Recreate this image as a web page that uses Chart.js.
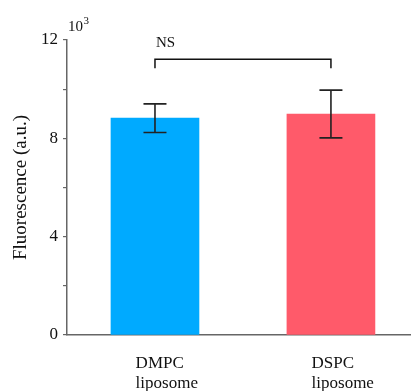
<!DOCTYPE html>
<html>
<head>
<meta charset="utf-8">
<script src="https://cdn.jsdelivr.net/npm/chart.js@4.4.1/dist/chart.umd.min.js"></script>
<style>
  html, body { margin: 0; padding: 0; background: #ffffff; overflow: hidden; }
  #wrap { width: 411px; height: 391px; }
</style>
</head>
<body>
<div id="wrap"><canvas id="chart" width="411" height="391"></canvas></div>
<script>
// Fluorescence of two liposome formulations (×10^3 a.u.), mean ± error
const categories = [['DMPC', 'liposome'], ['DSPC', 'liposome']];
const means = [8.82, 8.99];
const errors = [0.58, 0.97];
const barColors = ['rgb(0,170,255)', 'rgb(255,90,106)'];
const yTicks = [0, 4, 8, 12];
// significance bracket between the two groups
const bracket = { from: 0, to: 1, level: 11.22, drop: 10.85, text: 'NS' };

const FONT = "'Liberation Serif', 'Times New Roman', serif";
const AXIS = '#666666';

const extrasPlugin = {
  id: 'extras',
  afterDatasetsDraw(chart) {
    const { ctx, scales: { x, y } } = chart;
    ctx.save();
    // error bars
    ctx.strokeStyle = '#222222';
    ctx.lineWidth = 1.6;
    means.forEach((m, i) => {
      const px = x.getPixelForValue(i);
      const top = y.getPixelForValue(m + errors[i]);
      const bot = y.getPixelForValue(m - errors[i]);
      const cap = 11.5;
      ctx.beginPath();
      ctx.moveTo(px, top); ctx.lineTo(px, bot);
      ctx.moveTo(px - cap, top); ctx.lineTo(px + cap, top);
      ctx.moveTo(px - cap, bot); ctx.lineTo(px + cap, bot);
      ctx.stroke();
    });
    // bracket
    const bx1 = x.getPixelForValue(bracket.from);
    const bx2 = x.getPixelForValue(bracket.to);
    const by = y.getPixelForValue(bracket.level);
    const bd = y.getPixelForValue(bracket.drop);
    ctx.strokeStyle = '#111111';
    ctx.lineWidth = 1.5;
    ctx.beginPath();
    ctx.moveTo(bx1, bd); ctx.lineTo(bx1, by); ctx.lineTo(bx2, by); ctx.lineTo(bx2, bd);
    ctx.stroke();
    ctx.fillStyle = '#111111';
    ctx.font = '15px ' + FONT;
    ctx.textAlign = 'left';
    ctx.textBaseline = 'alphabetic';
    ctx.fillText(bracket.text, bx1 + 1, by - 12);
    // axis multiplier
    const ax = y.right + 1;
    const ay = y.top - 9;
    ctx.font = '15px ' + FONT;
    ctx.fillText('10', ax, ay);
    const w = ctx.measureText('10').width;
    ctx.font = '11px ' + FONT;
    ctx.fillText('3', ax + w + 0.5, ay - 7);
    ctx.restore();
  }
};

new Chart(document.getElementById('chart'), {
  type: 'bar',
  data: {
    datasets: [{
      data: means.map((v, i) => ({ x: i, y: v })),
      backgroundColor: barColors,
      borderWidth: 0,
      barThickness: 88
    }]
  },
  options: {
    responsive: false,
    animation: false,
    events: [],
    layout: { padding: { top: 40, right: 0, left: 0, bottom: 0 } },
    plugins: { legend: { display: false }, tooltip: { enabled: false } },
    scales: {
      x: {
        type: 'linear',
        offset: false,
        min: -0.5,
        max: 1.455,
        grid: { display: false, offset: false },
        border: { display: true, color: AXIS, width: 1.5 },
        afterBuildTicks(scale) {
          scale.ticks = categories.map((c, i) => ({ value: i - 0.11 }));
        },
        afterFit(scale) { scale.height = 56; },
        ticks: {
          autoSkip: false,
          align: 'start',
          color: '#111111',
          font: { family: FONT, size: 17, lineHeight: 1.2 },
          padding: 10,
          callback: (v, i) => categories[i]
        }
      },
      y: {
        min: 0,
        max: 12,
        afterBuildTicks(scale) {
          const t = [];
          for (let v = 0; v <= 12; v += 2) t.push({ value: v });
          scale.ticks = t;
        },
        afterFit(scale) { scale.width = 67; },
        grid: { drawOnChartArea: false, drawTicks: true, tickLength: 4, color: AXIS, lineWidth: 1.2 },
        border: { display: true, color: AXIS, width: 1.5 },
        ticks: {
          color: '#111111',
          padding: 5,
          font: { family: FONT, size: 17 },
          callback: (v) => (yTicks.includes(v) ? String(v) : '')
        },
        title: {
          display: true,
          text: 'Fluorescence (a.u.)',
          color: '#111111',
          font: { family: FONT, size: 19 },
          padding: { top: 10, bottom: 0 }
        }
      }
    }
  },
  plugins: [extrasPlugin]
});
</script>
</body>
</html>
